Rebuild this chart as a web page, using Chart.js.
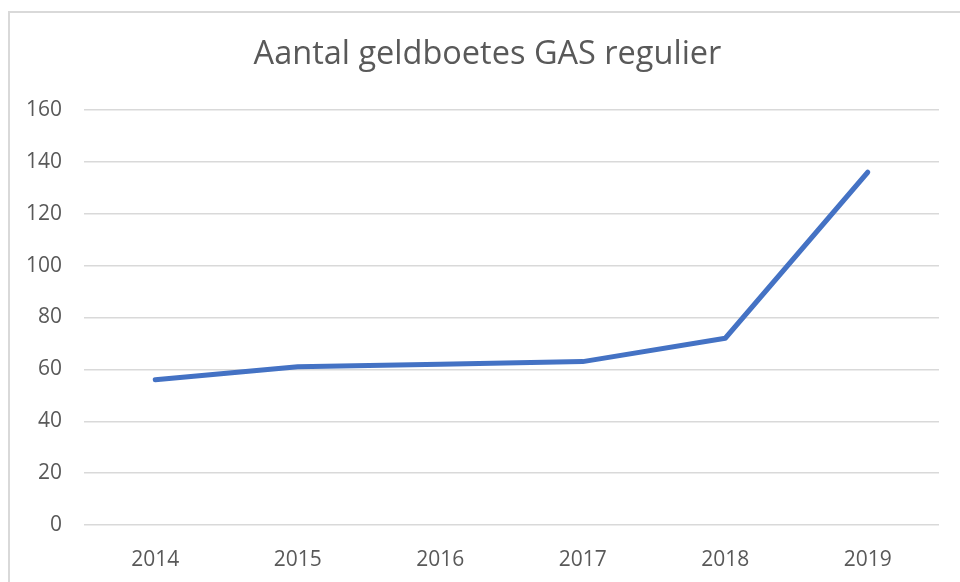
<!DOCTYPE html>
<html>
<head>
<meta charset="utf-8">
<script src="https://cdn.jsdelivr.net/npm/chart.js@4"></script>
<style>
  html, body { margin: 0; padding: 0; background: #fff; overflow: hidden; }
  #frame { position: absolute; left: 8px; top: 11px; width: 1000px; height: 600px;
           border-left: 2px solid #d9d9d9; border-top: 2px solid #d9d9d9; box-sizing: border-box; }
  #wrap { position: absolute; left: 0; top: 0; width: 960px; height: 582px; }
</style>
</head>
<body>
<div id="frame"></div>
<div id="wrap"><canvas id="grafico" width="960" height="582"></canvas></div>
<script>
// data
const jaren = ['2014', '2015', '2016', '2017', '2018', '2019'];
const boetes = [56, 61, 62, 63, 72, 136];
const yTicks = [0, 20, 40, 60, 80, 100, 120, 140, 160];

const titel = 'Aantal geldboetes GAS regulier';
const grijs = '#595959';

// the original title is centred on the whole frame, a bit right of the canvas centre
const titelVerschuiving = {
    id: 'titelVerschuiving',
    afterLayout(chart) {
        if (chart.titleBlock) chart.titleBlock.left = 36;
    }
};

const ctx = document.getElementById('grafico').getContext('2d');
new Chart(ctx, {
    type: 'line',
    data: {
        labels: jaren,
        datasets: [{
            label: 'Aantal',
            data: boetes,
            borderColor: '#4472C4',
            backgroundColor: '#4472C4',
            borderWidth: 5,
            borderCapStyle: 'round',
            borderJoinStyle: 'round',
            pointRadius: 0,
            tension: 0,
            fill: false
        }]
    },
    options: {
        responsive: false,
        animation: false,
        layout: { padding: { left: 0, right: 21, top: 0, bottom: 0 } },
        plugins: {
            legend: { display: false },
            tooltip: { enabled: false },
            title: {
                display: true,
                text: titel,
                color: grijs,
                font: { family: 'Open Sans', size: 32.5, weight: 'normal' },
                padding: { top: 35, bottom: 36 }
            }
        },
        scales: {
            x: {
                offset: true,
                grid: { display: false },
                border: { display: false },
                ticks: {
                    color: grijs,
                    font: { family: 'Open Sans', size: 21 },
                    padding: 14,
                    maxRotation: 0
                },
                afterFit: scale => { scale.height = 57; }
            },
            y: {
                min: 0,
                max: 160,
                afterBuildTicks: scale => { scale.ticks = yTicks.map(v => ({ value: v })); },
                grid: { color: '#d9d9d9', lineWidth: 1.5, drawTicks: false },
                border: { display: false },
                ticks: {
                    color: grijs,
                    font: { family: 'Open Sans', size: 21 },
                    padding: 22
                },
                afterFit: scale => { scale.width = 84; }
            }
        }
    },
    plugins: [titelVerschuiving]
});
</script>
</body>
</html>
